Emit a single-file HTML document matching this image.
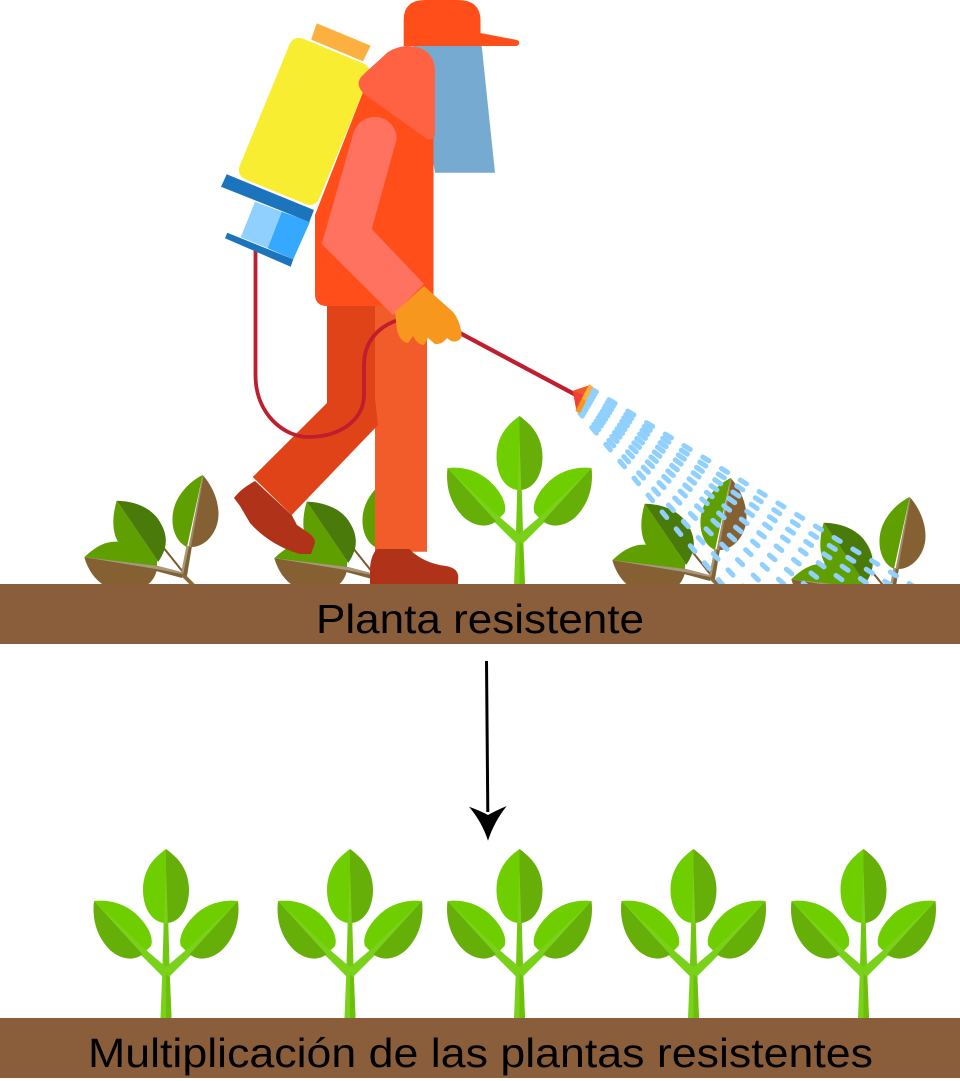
<!DOCTYPE html>
<html><head><meta charset="utf-8"><style>html,body{margin:0;padding:0;background:#fff}svg{display:block}text{font-family:"Liberation Sans",sans-serif;fill:#000}</style></head>
<body>
<svg xmlns="http://www.w3.org/2000/svg" xmlns:xlink="http://www.w3.org/1999/xlink" width="960" height="1081" viewBox="0 0 960 1081">
<defs>
<clipPath id="gc"><rect x="0" y="0" width="960" height="585"/></clipPath>
<g id="plant">
<path d="M-5.5,0 L-3.7,-45 L3.7,-45 L5.5,0Z" fill="#79d11a"/>
<path d="M0,0 L0,-45 L3.7,-45 L5.5,0Z" fill="#6cc00a"/>
<path d="M-3.7,-45 L-2.3,-96 L2.3,-96 L3.7,-45Z" fill="#72c80e"/>
<path d="M0,-51 L-20,-68 L-25,-63 L-3,-41 L0,-44 L3,-41 L25,-63 L20,-68Z" fill="#79d11a"/>
<path d="M0,-169 C-8,-163 -23,-152 -23,-128 C-23,-110 -14,-95 0,-95Z" fill="#6fce00"/>
<path d="M0,-169 C8,-163 23,-152 23,-128 C23,-110 14,-95 0,-95Z" fill="#66ae08"/>
<path d="M-72,-117 C-55,-119 -38,-113 -27,-101 C-18,-92 -12,-80 -15,-72 L-21,-66Z" fill="#6fce00"/>
<path d="M-72,-117 C-74,-100 -70,-82 -56,-68 C-45,-58 -30,-56 -21,-66Z" fill="#66ae08"/>
<path d="M72,-117 C55,-119 38,-113 27,-101 C18,-92 12,-80 15,-72 L21,-66Z" fill="#6fce00"/>
<path d="M72,-117 C74,-100 70,-82 56,-68 C45,-58 30,-56 21,-66Z" fill="#66ae08"/>
<path d="M-72,-117 L-19,-67 L-23,-63Z M72,-117 L19,-67 L23,-63Z M0,-150 L-1.8,-95 L1.8,-95Z" fill="#79d11a"/>
</g>
<g id="dead">
<path d="M153.3,535 L183,572" stroke="#7b5a2f" stroke-width="2" fill="none"/>
<path d="M181,573 L193,585" stroke="#8a6a3a" stroke-width="4" fill="none"/>
<path d="M202.7,475 C190,481 173,497 172.5,518 C172,532 178,543 187,547Z" fill="#5fa000"/>
<path d="M202.7,475 C210,483 218,497 218.5,513 C219,532 205,548 190,547Z" fill="#856033"/>
<path d="M186.5,546 L192,546 L187,576 L181,574Z" fill="#7f6236"/>
<path d="M186.5,546 L189,546 L183,575 L181,574Z" fill="#a9977a"/>
<path d="M202.7,475 L203.5,477 L191,547 L188.5,547Z" fill="#a08a68"/>
<path d="M116.7,500.7 C113,513 111,530 118,541.7 C105,541 95,547 84.3,557.3 L157,566 L157,561 L158.3,561.7Z" fill="#5fa000"/>
<path d="M116.7,500.7 C135,501 152,508 160,522 C168,535 168,548 158.3,561.7Z" fill="#4a7a0a"/>
<path d="M84.3,557.3 L157,568.5 C156,577 150,584 145,586 L105,586 C95,580 88,570 84.3,557.3Z" fill="#856033"/>
<path d="M84.3,557.3 L158,566 L183,572.5 L182,578 L156,571Z" fill="#7f6236"/>
<path d="M84.3,557.3 L158,566 L183,572.5 L182,574 L156,569Z" fill="#a9977a"/>
</g>
</defs>

<use xlink:href="#dead" href="#dead"/>
<use xlink:href="#dead" href="#dead" x="190" y="1"/>
<use xlink:href="#dead" href="#dead" x="528" y="3"/>
<use xlink:href="#dead" href="#dead" x="707" y="22"/>
<use xlink:href="#plant" href="#plant" x="519.5" y="585"/>

<g clip-path="url(#gc)">
<g stroke="#90d0ff" stroke-width="5" stroke-linecap="round" stroke-dasharray="7.3 14.7" stroke-dashoffset="3.65" fill="none">
<line x1="593.3" y1="390" x2="914.6" y2="586.9"/>
<line x1="591.8" y1="392.6" x2="908.2" y2="596.3"/>
<line x1="590.3" y1="395.2" x2="901.8" y2="606.7"/>
<line x1="588.9" y1="397.8" x2="895.5" y2="618.3"/>
<line x1="587.4" y1="400.4" x2="885.9" y2="630.8"/>
<line x1="585.9" y1="403" x2="876.4" y2="643.9"/>
<line x1="584.4" y1="405.5" x2="865.3" y2="656.8"/>
<line x1="583" y1="408.1" x2="852.2" y2="672.1"/>
<line x1="581.5" y1="410.7" x2="837.5" y2="688.7"/>
<line x1="580" y1="413.3" x2="822.9" y2="705.2"/>
</g>
</g>

<rect x="0" y="584" width="960" height="60" fill="#8a5d3b"/>
<text x="316" y="633" font-size="41" textLength="328" lengthAdjust="spacingAndGlyphs">Planta resistente</text>

<path d="M413,46 L481.7,46 L495,172.7 L435,172.7Z" fill="#77aad1"/>
<path d="M375,300 L427,300 L427,551.7 L375,551.7Z" fill="#f25c2a"/>
<path d="M327,300 L375,300 L375,398 L378,425 L291.7,515 L252.7,477 L327,403Z" fill="#e14318"/>
<path d="M255,481 L291.7,515 L297,525 L310,534 Q315,538 315,543 L311,554 L300,554 C285,550 265,540 250,523 L240,506 L234,498 C240,490 248,485 255,481Z" fill="#b03219"/>
<path d="M377,549 L409.3,549 C418,558 430,564 446,566 Q458,568 458.3,577 L458,584 L370,584 L370,568 Q371,555 377,549Z" fill="#b03219"/>
<path d="M363,92 L433.5,92 L433.5,306 L327,306 Q315,306 315,294 L315,215Z" fill="#ff4e1a"/>
<path d="M403.7,46 L403.7,20 Q403.7,0 425,0 L458,0 Q480,0 480.5,20 L480.5,33 L517,40 Q520,41 519,44 Q518,46 516,46Z" fill="#ff4e1a"/>

<path d="M255.5,250 L255.5,375 C255.5,415 285,437 308,437 C340,437 364,420 364,395 L364,365 C364,340 380,326 398,320" fill="none" stroke="#be1e2d" stroke-width="3.8"/>

<path d="M317,24 L370,46 L362.7,60.7 L311.7,39.3Z" fill="#fbb040" stroke="#fbb040" stroke-width="1" stroke-linejoin="round"/>
<rect x="261.4" y="45.4" width="86" height="152" rx="10" transform="rotate(22.3 304.4 121.4)" fill="#f9ed32"/>
<path d="M255,201.7 L281.7,211.7 L267.7,248.3 L240.7,237.3Z" fill="#90d0ff"/>
<path d="M281.7,211.7 L310,221.7 L293.3,259.3 L267.7,248.3Z" fill="#35a8ff"/>
<path d="M226.7,174.3 L314,210 L309.3,222 L221,186.7Z" fill="#1c75bc"/>
<path d="M227.3,232.7 L293.3,259.3 L290.7,266.7 L225,238.3Z" fill="#1c75bc"/>

<path d="M366,72 L388,52 Q398,46 408,46 Q435,47 435,72 L435,135 Q433,141 427,139 L364,94 Q355,85 361,77Z" fill="#ff6243"/>

<path d="M353.5,133 A22,22 0 0 1 396.7,139 L371.7,229 L424,284 L393,315 L321.7,244Z" fill="#ff7260"/>

<line x1="458" y1="332" x2="576" y2="395" stroke="#be1e2d" stroke-width="4.2"/>
<path d="M424,286 L453,312 Q461,322 461.7,337 Q458,343 451,341 L447,338 Q442,345 435,344 L428,338 L424,345 Q418,345 413,336 L408,343 Q400,342 397,330 L395,312Z" fill="#f7971e"/>

<path d="M572.7,390.7 L590,385 L576.7,411.7Z" fill="#f15a29"/>
<path d="M572.7,390.7 L583,395 L576.7,411.7Z" fill="#ef4136"/>
<path d="M589.3,384.3 L593,386.7 L580,413.3 L575.3,411Z" fill="#f7971e"/>
<path d="M589.3,384.3 L593,386.7 L586,401 L582,398Z" fill="#fbb040"/>

<path d="M486.5,661 L487.8,812" stroke="#000" stroke-width="3" fill="none"/>
<path d="M469,806.7 Q481,811 488,815 Q495,811 506.7,806 Q494,822 488,840.7 Q482,822 469,806.7Z" fill="#000"/>

<use xlink:href="#plant" href="#plant" x="166" y="1018"/>
<use xlink:href="#plant" href="#plant" x="350" y="1018"/>
<use xlink:href="#plant" href="#plant" x="519.5" y="1018"/>
<use xlink:href="#plant" href="#plant" x="693.5" y="1018"/>
<use xlink:href="#plant" href="#plant" x="863.5" y="1018"/>

<rect x="0" y="1018" width="960" height="60" fill="#8a5d3b"/>
<text x="88" y="1067" font-size="41" textLength="785" lengthAdjust="spacingAndGlyphs">Multiplicación de las plantas resistentes</text>
</svg>
</body></html>
